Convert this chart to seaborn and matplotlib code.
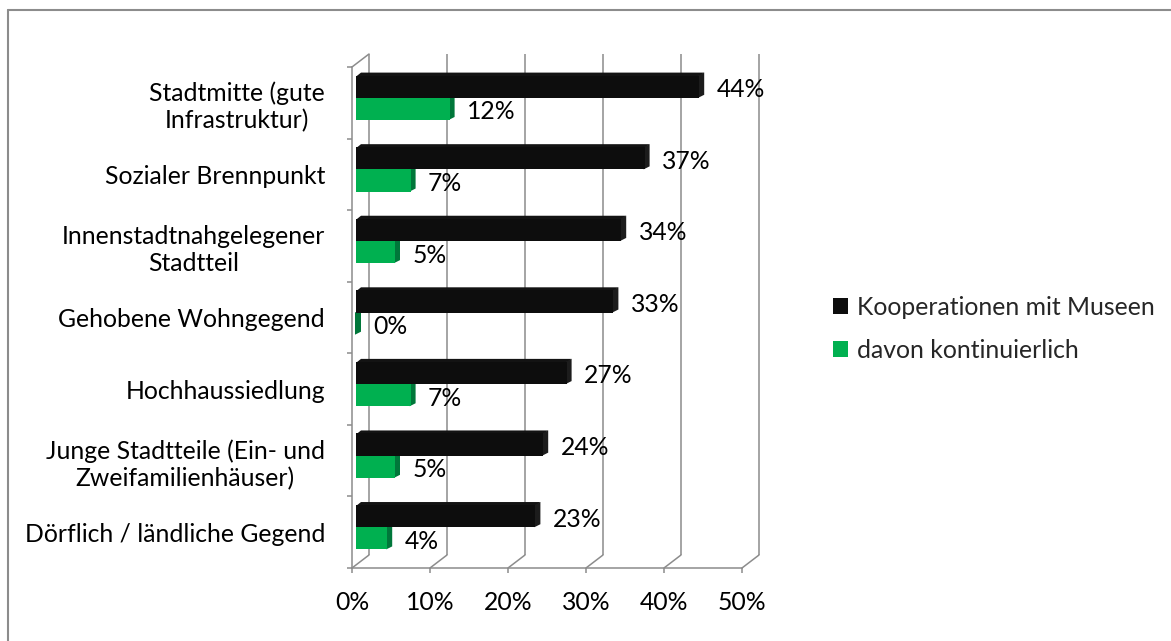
import numpy as np
import pandas as pd
import matplotlib
matplotlib.use("Agg")
import matplotlib.pyplot as plt
from matplotlib.patches import Polygon
from matplotlib.lines import Line2D
import seaborn as sns

# ---- data -------------------------------------------------------------
categories = [
    "Stadtmitte (gute\nInfrastruktur)",
    "Sozialer Brennpunkt",
    "Innenstadtnahgelegener\nStadtteil",
    "Gehobene Wohngegend",
    "Hochhaussiedlung",
    "Junge Stadtteile (Ein- und\nZweifamilienhäuser)",
    "Dörflich / ländliche Gegend",
]
kooperationen = [44, 37, 34, 33, 27, 24, 23]
kontinuierlich = [12, 7, 5, 0, 7, 5, 4]
series_names = ["Kooperationen mit Museen", "davon kontinuierlich"]
x_ticks = [0, 10, 20, 30, 40, 50]

df = pd.DataFrame({
    "Lage": categories * 2,
    "Anteil": kooperationen + kontinuierlich,
    "Reihe": [series_names[0]] * len(categories) + [series_names[1]] * len(categories),
})

# ---- style ------------------------------------------------------------
sns.set_theme(style="white")
plt.rcParams["font.family"] = ["Lato", "DejaVu Sans"]
FS = 17.8
GRID = "#8C8C8C"
GRID_LW = 1.1
front = {series_names[0]: "#0D0D0D", series_names[1]: "#00B050"}
side = {series_names[0]: "#1C1C1C", series_names[1]: "#00773A"}
topc = {series_names[0]: "#131313", series_names[1]: "#2FC06A"}

W, H = 1171, 641
fig = plt.figure(figsize=(W / 100, H / 100), dpi=100)
fig.patch.set_facecolor("white")

# front plane of the plot box (pixels)
L, R, T, B = 352, 742, 67, 568
ax = fig.add_axes([L / W, 1 - B / H, (R - L) / W, (B - T) / H])

sns.barplot(
    data=df, y="Lage", x="Anteil", hue="Reihe",
    order=categories, hue_order=series_names, palette=front,
    width=0.62, orient="h", saturation=1, linewidth=0, ax=ax,
)
handles, labels = ax.get_legend_handles_labels()
if ax.get_legend() is not None:
    ax.get_legend().remove()

ax.set_xlim(0, 50)
ax.set_ylim(len(categories) - 0.5, -0.5)
ax.set_xlabel("")
ax.set_ylabel("")
ax.grid(False)
ax.patch.set_alpha(0)

# pixel -> data conversion for the oblique depth
sx = (R - L) / 50.0            # px per percent
sy = (B - T) / len(categories)  # px per category
def dpx(px):
    return px / sx
def dpy(py):
    return py / sy

# back wall / floor depth
DX, DY = dpx(17), dpy(13)
y_top, y_bot = -0.5, len(categories) - 0.5
for t in x_ticks:
    ax.plot([t + DX, t + DX], [y_top - DY, y_bot - DY], color=GRID, lw=GRID_LW,
            zorder=0.4, clip_on=False, solid_capstyle="butt")
    ax.plot([t, t + DX], [y_bot, y_bot - DY], color=GRID, lw=GRID_LW,
            zorder=0.4, clip_on=False)
ax.plot([0, DX], [y_top, y_top - DY], color=GRID, lw=GRID_LW, zorder=0.4, clip_on=False)

# bars: shift into the middle of the depth and add side / top faces
bdx, bdy = dpx(5), dpy(3)
ovx, ovy = dpx(1), dpy(1)   # small overlap under the front face to avoid seams
shift_x, shift_y = dpx(4), dpy(5)
for cont, name in zip(ax.containers, series_names):
    for bar in cont:
        bar.set_x(bar.get_x() + shift_x)
        bar.set_y(bar.get_y() - shift_y)
        bar.set_zorder(1)
        x0 = bar.get_x()
        xe = x0 + bar.get_width()
        top = bar.get_y()
        bot = top + bar.get_height()
        ax.add_patch(Polygon([(xe - ovx, top), (xe + bdx, top - bdy), (xe + bdx, bot - bdy), (xe - ovx, bot)],
                             closed=True, facecolor=side[name], edgecolor="none", zorder=0.9))
        ax.add_patch(Polygon([(x0, top + ovy), (x0 + bdx, top - bdy), (xe + bdx, top - bdy), (xe, top + ovy)],
                             closed=True, facecolor=topc[name], edgecolor="none", zorder=0.85))

# value labels
for cont, vals in zip(ax.containers, [kooperationen, kontinuierlich]):
    for bar, v in zip(cont, vals):
        yc = bar.get_y() + bar.get_height() / 2
        ax.annotate(f"{v}%", xy=(v, yc), xytext=(21.5, -3), textcoords="offset pixels",
                    ha="left", va="center", fontsize=FS, color="black",
                    annotation_clip=False, zorder=3)

# spines and ticks
for s in ["top", "right"]:
    ax.spines[s].set_visible(False)
for s in ["left", "bottom"]:
    ax.spines[s].set_color(GRID)
    ax.spines[s].set_linewidth(GRID_LW)
    ax.spines[s].set_zorder(0.5)

ax.set_xticks(x_ticks)
ax.set_xticklabels([f"{t}%" for t in x_ticks])
ax.tick_params(axis="x", which="major", length=3.6, width=GRID_LW, color=GRID,
               labelsize=FS, labelcolor="black", pad=13, direction="out", bottom=True)
ax.set_yticks(range(len(categories)))
ax.set_yticklabels(categories)
ax.set_yticks(np.arange(len(categories) + 1) - 0.5, minor=True)
ax.tick_params(axis="y", which="major", length=0, labelsize=FS, labelcolor="black", pad=19.5)
ax.tick_params(axis="y", which="minor", length=3.6, width=GRID_LW, color=GRID, left=True,
               direction="out")
for lbl in ax.get_yticklabels():
    lbl.set_multialignment("center")
    lbl.set_linespacing(1.2)

# legend
leg = fig.legend(handles, labels, loc="center left",
                 bbox_to_anchor=(833 / W, 1 - 329 / H), bbox_transform=fig.transFigure,
                 frameon=False, fontsize=FS, handlelength=0.62, handleheight=0.62,
                 handletextpad=0.35, labelspacing=0.8, borderpad=0, borderaxespad=0)

# chart frame
fig.add_artist(Line2D([8 / W, 8 / W], [0, 1 - 10 / H], transform=fig.transFigure,
                      color=GRID, lw=1.5))
fig.add_artist(Line2D([8 / W, 1], [1 - 10 / H, 1 - 10 / H], transform=fig.transFigure,
                      color=GRID, lw=1.5))

fig.savefig("out.png", dpi=100, facecolor="white")
